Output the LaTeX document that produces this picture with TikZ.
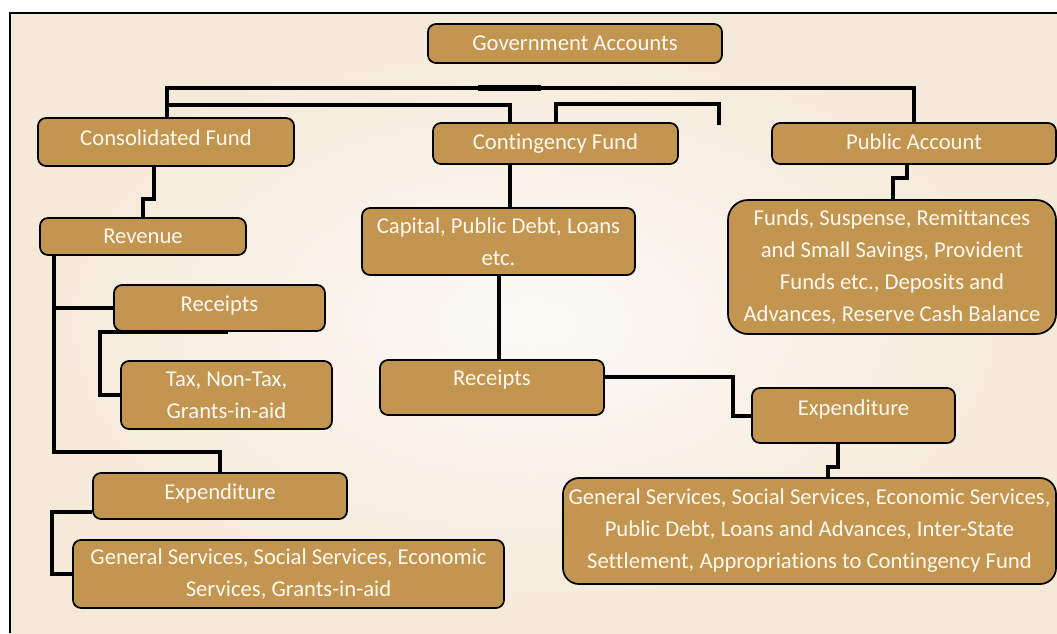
\documentclass[tikz,border=0pt]{standalone}
\usepackage{fontspec}
\setmainfont{Carlito}[Ligatures=NoCommon]
\usetikzlibrary{calc}

\definecolor{boxtan}{HTML}{C29550}
\definecolor{paper}{HTML}{FCFAF6}
\definecolor{paperedge}{HTML}{F5E9D8}
\definecolor{boxtext}{HTML}{FFF9F0}

\tikzset{
  box/.style={draw=black, line width=1.3pt, fill=boxtan, rounded corners=6pt,
    text=boxtext, align=center, inner sep=0pt,
    font=\fontsize{17}{24}\selectfont},
  raised/.style={text height=10pt, text depth=#1},
  link/.style={line width=3pt},
  bus/.style={line width=2.4pt},
}

\begin{document}
\begin{tikzpicture}[x=0.75pt, y=-0.75pt]
  \useasboundingbox (0,0) rectangle (1057,633);
  \fill[white] (0,0) rectangle (1057,633);

  % paper and frame
  \shade[inner color=paper, outer color=paperedge] (10,13) rectangle (1057,633);
  \draw[line width=1.5pt] (10,633) -- (10,13) -- (1057,13);

  % top level
  \node[box, minimum width=220.5pt, minimum height=29.25pt] (gov) at (575,43.5) {Government Accounts};
  \node[box, raised=4.5pt, minimum width=192pt, minimum height=36pt] (cons) at (166,142) {Consolidated Fund};
  \node[box, raised=1pt, minimum width=183.75pt, minimum height=30.75pt] (cont) at (555.5,143.5) {Contingency Fund};
  \node[box, raised=1pt, minimum width=213pt, minimum height=30.75pt] (pub) at (914,143.5) {Public Account};

  % consolidated fund branch
  \node[box, minimum width=154.5pt, minimum height=27.75pt] (rev) at (143,236.5) {Revenue};
  \node[box, raised=4.5pt, minimum width=158.25pt, minimum height=34.5pt] (recL) at (219.5,308) {Receipts};
  \node[box, minimum width=158.25pt, minimum height=51pt] (tax) at (226.5,395) {Tax, Non-Tax,\\Grants-in-aid};
  \node[box, raised=4.5pt, minimum width=190.5pt, minimum height=34.5pt] (expL) at (220,496) {Expenditure};
  \node[box, minimum width=323.25pt, minimum height=51pt] (genL) at (288.5,574)
    {General Services, Social Services, Economic\\Services, Grants-in-aid};

  % contingency fund branch
  \node[box, minimum width=204.75pt, minimum height=50.25pt] (cap) at (498.5,241.5) {Capital, Public Debt, Loans\\etc.};
  \node[box, raised=12.5pt, minimum width=168pt, minimum height=41.25pt] (recM) at (492,387.5) {Receipts};
  \node[box, raised=10pt, minimum width=152.25pt, minimum height=41.25pt] (expR) at (853.5,415.5) {Expenditure};
  \node[box, rounded corners=12pt, minimum width=369.75pt, minimum height=79.5pt] (genR) at (809.5,531)
    {General Services, Social Services, Economic Services,\\Public Debt, Loans and Advances, Inter-State\\Settlement, Appropriations to Contingency Fund};

  % public account branch
  \node[box, rounded corners=15pt, minimum width=246pt, minimum height=100.5pt] (funds) at (892,267)
    {Funds, Suspense, Remittances\\and Small Savings, Provident\\Funds etc., Deposits and\\Advances, Reserve Cash Balance};

  % connectors
  \draw[bus] (167,0 |- cons.north) -- (167,88) -| (pub.north);
  \draw[line width=4pt] (478,88) -- (541,88);
  \draw[link] (167,105) -| (510,0 |- cont.north);
  \coordinate (loose) at (719,125);
  \draw[link] (556,0 |- cont.north) |- (719,104) -- (loose);

  \draw[link] (154,0 |- cons.south) -- (154,199) -- (143,199) -- (143,0 |- rev.north);
  \draw[link] (54,0 |- rev.south) -- (54,452) -| (expL.north);
  \draw[link] (54,308) -- (recL.west);
  \draw[link] (228,0 |- recL.south) -- (100,0 |- recL.south) |- (tax.west);
  \draw[link] (expL.west |- 0,512) -- (52,512) |- (genL.west);

  \draw[link] (510,0 |- cont.south) -- (510,0 |- cap.north);
  \draw[link] (cap.south) -- (cap.south |- recM.north);
  \draw[link] (recM.east |- 0,377) -- (733,377) |- (expR.west);
  \draw[link] (838,0 |- expR.south) -- (838,467) -- (828,467) -- (828,0 |- genR.north);

  \draw[link] (907,0 |- pub.south) -- (907,178) -- (893,178) -- (893,0 |- funds.north);
\end{tikzpicture}
\end{document}
